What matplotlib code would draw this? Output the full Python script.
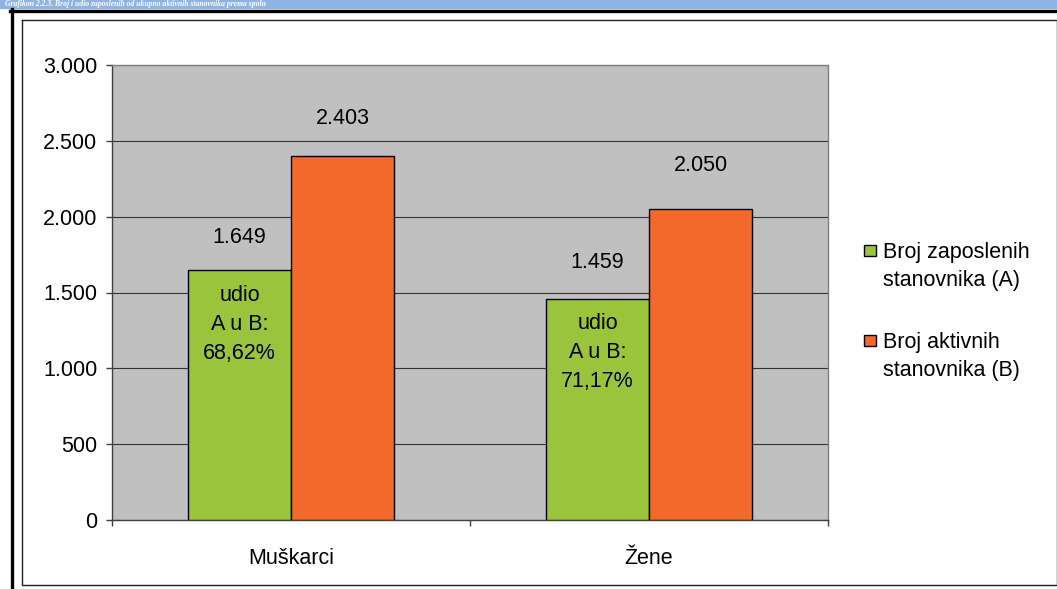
import matplotlib
matplotlib.use("Agg")
import matplotlib.pyplot as plt
from matplotlib.patches import Rectangle
from matplotlib.lines import Line2D
import numpy as np

# data
categories = ["Muškarci", "Žene"]
series_names = ["Broj zaposlenih\nstanovnika (A)", "Broj aktivnih\nstanovnika (B)"]
employed = [1649, 1459]
active = [2403, 2050]
y_ticks = [0, 500, 1000, 1500, 2000, 2500, 3000]
title = "Grafikon 2.2.3. Broj i udio zaposlenih od ukupno aktivnih stanovnika prema spolu"

green = "#99C43B"
orange = "#F2692B"
W, H = 1057, 589

plt.rcParams["font.family"] = ["Liberation Sans", "DejaVu Sans"]
plt.rcParams["font.size"] = 15.5

fig = plt.figure(figsize=(W / 100, H / 100), dpi=100)

# page decoration: blue caption band and frames
fig.patches.append(Rectangle((0, 1 - 7.5 / H), 1, 7.5 / H, transform=fig.transFigure,
                             color="#8EB4E3", zorder=0))
fig.text(5 / W, 1 - 6.5 / H, title, color="white", fontsize=5.5, style="italic",
         fontweight="bold", family="Liberation Serif", va="baseline", ha="left")
fig.lines.append(Line2D([10 / W, 1], [1 - 10.5 / H, 1 - 10.5 / H], color="black", lw=2.4,
                        transform=fig.transFigure))
fig.lines.append(Line2D([11.5 / W, 11.5 / W], [0, 1 - 9 / H], color="black", lw=2.4,
                        transform=fig.transFigure))
fig.lines.append(Line2D([21.5 / W, 1, 1, 21.5 / W, 21.5 / W],
                        [1 - 19.5 / H, 1 - 19.5 / H, 1 - 584.5 / H, 1 - 584.5 / H, 1 - 19.5 / H],
                        color="#222222", lw=1.0, transform=fig.transFigure))

ax = fig.add_axes([112 / W, 1 - 520 / H, (828 - 112) / W, (520 - 65) / H])
ax.set_facecolor("#C0C0C0")

x = np.arange(len(categories))
w = 0.288
ax.bar(x - w / 2, employed, w, color=green, edgecolor="black", lw=1.0, zorder=3)
ax.bar(x + w / 2, active, w, color=orange, edgecolor="black", lw=1.0, zorder=3)

def fmt(v):
    return f"{v:,}".replace(",", ".")

# value labels (offsets in points above bar top)
green_off = [23, 26]
orange_off = [26.6, 31.7]
for i in range(len(categories)):
    ax.annotate(fmt(employed[i]), (x[i] - w / 2, employed[i]), xytext=(0, green_off[i]),
                textcoords="offset points", ha="center", va="center")
    ax.annotate(fmt(active[i]), (x[i] + w / 2, active[i]), xytext=(0, orange_off[i]),
                textcoords="offset points", ha="center", va="center")
    share = employed[i] / active[i] * 100
    txt = "udio\nA u B:\n" + f"{share:.2f}".replace(".", ",") + "%"
    ax.annotate(txt, (x[i] - w / 2, employed[i]), xytext=(0, -39),
                textcoords="offset points", ha="center", va="center", linespacing=1.5,
                zorder=4)

ax.set_xlim(-0.5, 1.5)
ax.set_ylim(0, 3000)
ax.set_yticks(y_ticks)
ax.set_yticklabels([fmt(v) for v in y_ticks])
ax.set_xticks(x)
ax.set_xticklabels(categories)
ax.set_xticks([-0.5, 0.5, 1.5], minor=True)
ax.tick_params(axis="x", which="major", length=0, pad=20)
ax.tick_params(axis="x", which="minor", length=4.5, width=1, color="#404040", direction="out")
ax.tick_params(axis="y", length=4.5, width=1, color="#404040", pad=6, direction="out")
ax.yaxis.grid(True, color="#333333", lw=0.8)
ax.set_axisbelow(True)
for s in ["left", "bottom"]:
    ax.spines[s].set_color("#404040")
    ax.spines[s].set_linewidth(1.0)
for s in ["top", "right"]:
    ax.spines[s].set_color("#808080")
    ax.spines[s].set_linewidth(1.0)

# legend, built by hand so the marker sits on the first text line
leg_y = [1 - 250 / H, 1 - 340 / H]
for name, col, y in zip(series_names, [green, orange], leg_y):
    fig.patches.append(Rectangle((864 / W, y - 5.5 / H), 12 / W, 11 / H, transform=fig.transFigure,
                                 facecolor=col, edgecolor="black", lw=1.0))
    fig.text(883 / W, y + 8 / H, name, ha="left", va="top", linespacing=1.45)

fig.savefig("out.png", dpi=100)
